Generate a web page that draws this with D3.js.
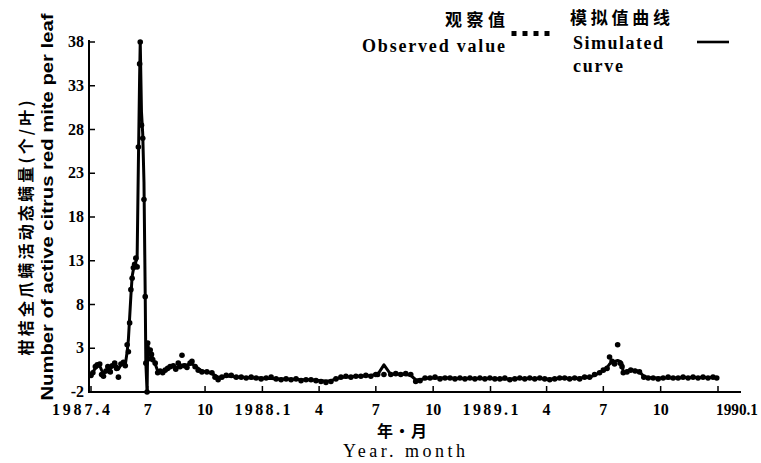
<!DOCTYPE html>
<html><head><meta charset="utf-8">
<script src="https://cdn.jsdelivr.net/npm/d3@7"></script>
<style>body{margin:0;background:#fff}svg{display:block}</style>
</head><body>
<svg id="c" width="761" height="463"></svg>
<script>
// ---- data ----
const dates = [
"1987-04-01","1987-04-04","1987-04-08","1987-04-11","1987-04-15","1987-04-18","1987-04-21","1987-04-25","1987-04-28",
"1987-05-02","1987-05-05","1987-05-09","1987-05-12","1987-05-15","1987-05-19","1987-05-23","1987-05-26","1987-05-29","1987-05-31",
"1987-06-02","1987-06-04","1987-06-06","1987-06-08","1987-06-10","1987-06-12","1987-06-14","1987-06-16","1987-06-18","1987-06-19",
"1987-06-21","1987-06-23","1987-06-25","1987-06-27","1987-06-28","1987-06-30","1987-07-01","1987-07-03","1987-07-05","1987-07-07",
"1987-07-09","1987-07-13","1987-07-17","1987-07-21","1987-07-25","1987-07-29","1987-08-02","1987-08-06","1987-08-11","1987-08-15",
"1987-08-19","1987-08-22","1987-08-25","1987-08-29","1987-09-02","1987-09-07","1987-09-10","1987-09-15","1987-09-20","1987-09-26",
"1987-10-04","1987-10-12","1987-10-17","1987-10-22","1987-10-28","1987-11-04","1987-11-12","1987-11-20","1987-11-28","1987-12-06",
"1987-12-14","1987-12-22","1987-12-30",
"1988-01-07","1988-01-15","1988-01-23","1988-01-31","1988-02-08","1988-02-16","1988-02-24","1988-03-03","1988-03-11","1988-03-19",
"1988-03-27","1988-04-04","1988-04-12","1988-04-20","1988-04-28","1988-05-06","1988-05-14","1988-05-22","1988-05-30","1988-06-07",
"1988-06-15","1988-06-23","1988-07-01","1988-07-04","1988-07-14","1988-07-25","1988-08-02","1988-08-10","1988-08-18","1988-08-26",
"1988-09-03","1988-09-10","1988-09-18","1988-09-26","1988-10-04","1988-10-12","1988-10-20","1988-10-28","1988-11-05","1988-11-13",
"1988-11-21","1988-11-29","1988-12-07","1988-12-15","1988-12-23","1988-12-31",
"1989-01-08","1989-01-16","1989-01-24","1989-02-01","1989-02-09","1989-02-17","1989-02-25","1989-03-05","1989-03-13","1989-03-21",
"1989-03-29","1989-04-06","1989-04-14","1989-04-22","1989-04-30","1989-05-08","1989-05-16","1989-05-24","1989-06-01","1989-06-09",
"1989-06-17","1989-06-25","1989-07-01","1989-07-07","1989-07-11","1989-07-15","1989-07-19","1989-07-24","1989-07-28","1989-07-31",
"1989-08-02","1989-08-08","1989-08-14","1989-08-21","1989-08-28","1989-09-04","1989-09-11","1989-09-19","1989-09-27","1989-10-05",
"1989-10-13","1989-10-21","1989-10-29","1989-11-06","1989-11-14","1989-11-22","1989-11-30","1989-12-08","1989-12-16","1989-12-24",
"1989-12-30"
];
const observed = [
-0.1,0.2,0.9,1.1,1.2,0.0,-0.2,0.4,0.9,
0.3,1.0,1.3,0.7,-0.3,1.2,1.4,1.0,3.4,2.6,
5.9,9.7,11.0,12.2,12.6,13.3,12.3,26.0,35.5,38.0,
28.5,27.0,20.0,8.9,1.3,-2.0,3.6,1.8,2.8,2.3,
1.7,1.3,0.2,0.4,0.2,0.5,0.7,0.9,1.0,0.6,
1.3,0.9,2.2,1.0,0.8,1.3,1.5,0.9,0.5,0.3,
0.3,0.2,-0.3,-0.6,-0.3,-0.1,-0.1,-0.3,-0.3,-0.4,
-0.3,-0.4,-0.5,
-0.4,-0.3,-0.5,-0.6,-0.5,-0.6,-0.5,-0.7,-0.6,-0.6,
-0.7,-0.8,-0.9,-0.8,-0.5,-0.3,-0.2,-0.3,-0.2,-0.2,
-0.1,-0.2,0.0,0.0,0.0,0.0,0.1,0.0,0.1,0.0,
-0.8,-0.7,-0.4,-0.4,-0.3,-0.5,-0.4,-0.4,-0.5,-0.4,
-0.5,-0.4,-0.5,-0.4,-0.5,-0.4,
-0.5,-0.5,-0.4,-0.6,-0.5,-0.4,-0.5,-0.4,-0.5,-0.4,
-0.5,-0.6,-0.5,-0.4,-0.4,-0.5,-0.4,-0.5,-0.3,-0.3,
0.0,0.2,0.5,0.7,2.0,1.5,1.2,3.4,1.3,0.9,
0.2,0.3,0.5,0.4,0.3,-0.3,-0.4,-0.4,-0.5,-0.4,
-0.3,-0.4,-0.4,-0.3,-0.4,-0.3,-0.4,-0.3,-0.4,-0.3,
-0.4
];
const simulated = [
0.0,0.3,0.7,0.9,1.0,0.5,0.1,0.3,0.7,
0.6,0.9,1.1,1.0,0.6,1.1,1.2,1.1,2.6,4.0,
6.5,9.0,11.2,12.0,12.5,12.9,13.3,24.0,34.0,38.0,
30.0,27.5,22.0,9.0,1.3,-2.0,3.6,2.6,2.7,2.3,
1.8,1.2,0.4,0.3,0.4,0.5,0.7,0.8,0.9,0.8,
0.9,1.0,1.1,1.1,1.1,1.2,1.2,1.0,0.7,0.4,
0.3,0.1,-0.1,-0.3,-0.3,-0.2,-0.2,-0.3,-0.3,-0.35,
-0.4,-0.4,-0.4,
-0.45,-0.45,-0.5,-0.5,-0.5,-0.55,-0.55,-0.6,-0.6,-0.6,
-0.65,-0.7,-0.75,-0.7,-0.5,-0.35,-0.3,-0.25,-0.2,-0.2,
-0.15,-0.1,0.0,0.0,1.1,0.0,0.05,0.05,0.0,-0.1,
-0.6,-0.6,-0.45,-0.4,-0.4,-0.4,-0.4,-0.4,-0.45,-0.45,
-0.45,-0.45,-0.45,-0.45,-0.45,-0.45,
-0.45,-0.5,-0.5,-0.5,-0.5,-0.45,-0.45,-0.45,-0.45,-0.45,
-0.5,-0.5,-0.5,-0.45,-0.4,-0.45,-0.45,-0.4,-0.35,-0.3,
-0.1,0.2,0.5,0.8,1.2,1.4,1.5,1.6,1.5,1.3,
0.2,0.4,0.5,0.5,0.3,-0.2,-0.35,-0.4,-0.4,-0.4,
-0.4,-0.4,-0.4,-0.35,-0.35,-0.35,-0.35,-0.35,-0.35,-0.35,
-0.35
];
const yTicks = [38,33,28,23,18,13,8,3,-2];
const xTickDates = ["1987-04-01","1987-07-01","1987-10-01","1988-01-01","1988-04-01","1988-07-01","1988-10-01","1989-01-01","1989-04-01","1989-07-01","1989-10-01","1990-01-01"];
const xTickLabels = ["1987.4","7","10","1988.1","4","7","10","1989.1","4","7","10","1990.1"];

// ---- drawing ----
const parse = d3.timeParse("%Y-%m-%d");
const svg = d3.select("#c");
const serif = "'Liberation Serif','Times New Roman',serif";
const cjk = "'Noto Sans CJK SC',sans-serif";

const x = d3.scaleTime().domain([parse("1987-04-01"), parse("1990-01-01")]).range([91, 718]);
const y = d3.scaleLinear().domain([-2, 38]).range([392, 42]);

const pts = dates.map((d, i) => ({d: parse(d), o: observed[i], s: simulated[i]}));

// axes lines
svg.append("line").attr("x1", 89).attr("x2", 89).attr("y1", 40).attr("y2", 393)
  .attr("stroke", "#000").attr("stroke-width", 2);
svg.append("line").attr("x1", 88).attr("x2", 741).attr("y1", 392).attr("y2", 392)
  .attr("stroke", "#000").attr("stroke-width", 2);

// y ticks
const yg = svg.append("g");
yTicks.forEach(t => {
  yg.append("line").attr("x1", 89).attr("x2", 95).attr("y1", y(t)).attr("y2", y(t))
    .attr("stroke", "#000").attr("stroke-width", 1.5);
  yg.append("text").attr("x", 84).attr("y", y(t) + 5).attr("text-anchor", "end")
    .attr("font-family", serif).attr("font-size", 16).attr("font-weight", "bold").text(t);
});

// x ticks
const xg = svg.append("g");
xTickDates.forEach((td, i) => {
  const xp = x(parse(td));
  xg.append("line").attr("x1", xp).attr("x2", xp).attr("y1", 392).attr("y2", 386)
    .attr("stroke", "#000").attr("stroke-width", 1.5);
  const lab = xTickLabels[i];
  const t = xg.append("text").attr("y", 415).attr("font-family", serif)
    .attr("font-size", 16).attr("font-weight", "bold").attr("text-anchor", "middle").text(lab);
  if (i === 0) t.attr("x", xp - 10).attr("textLength", 58).attr("lengthAdjust", "spacing");
  else if (i === xTickLabels.length - 1) t.attr("x", 737).attr("textLength", 42).attr("lengthAdjust", "spacingAndGlyphs");
  else if (lab.length > 3) t.attr("x", xp).attr("textLength", 56).attr("lengthAdjust", "spacing");
  else t.attr("x", xp);
});

// simulated curve
svg.append("path").datum(pts)
  .attr("d", d3.line().x(p => x(p.d)).y(p => y(p.s)))
  .attr("fill", "none").attr("stroke", "#000").attr("stroke-width", 3).attr("stroke-linejoin", "round");

// observed dots
svg.append("g").selectAll("circle").data(pts).join("circle")
  .attr("cx", p => x(p.d)).attr("cy", p => y(p.o)).attr("r", 2.8).attr("fill", "#000");

// legend
svg.append("text").attr("x", 445).attr("y", 26).attr("font-family", cjk).attr("font-weight", "bold")
  .attr("font-size", 17).attr("textLength", 60).attr("lengthAdjust", "spacing").text("观察值");
svg.append("text").attr("x", 362).attr("y", 52).attr("font-family", serif).attr("font-weight", "bold")
  .attr("font-size", 18).attr("textLength", 143).attr("lengthAdjust", "spacing").text("Observed value");
[514, 525, 536, 547].forEach(cx => svg.append("rect").attr("x", cx - 2.5).attr("y", 31).attr("width", 5).attr("height", 5).attr("fill", "#000"));
svg.append("text").attr("x", 570).attr("y", 24).attr("font-family", cjk).attr("font-weight", "bold")
  .attr("font-size", 17).attr("textLength", 100).attr("lengthAdjust", "spacing").text("模拟值曲线");
svg.append("text").attr("x", 573).attr("y", 49).attr("font-family", serif).attr("font-weight", "bold")
  .attr("font-size", 18).attr("textLength", 90).attr("lengthAdjust", "spacing").text("Simulated");
svg.append("text").attr("x", 573).attr("y", 72).attr("font-family", serif).attr("font-weight", "bold")
  .attr("font-size", 18).attr("textLength", 50).attr("lengthAdjust", "spacing").text("curve");
svg.append("line").attr("x1", 697).attr("x2", 729).attr("y1", 42).attr("y2", 42)
  .attr("stroke", "#000").attr("stroke-width", 2.6);

// axis titles
svg.append("text").attr("x", 402).attr("y", 437).attr("text-anchor", "middle").attr("font-family", cjk)
  .attr("font-weight", "bold").attr("font-size", 16).attr("textLength", 50).attr("lengthAdjust", "spacing").text("年 · 月");
svg.append("text").attr("x", 404).attr("y", 457).attr("text-anchor", "middle").attr("font-family", serif)
  .attr("font-size", 18).attr("textLength", 122).attr("lengthAdjust", "spacing").text("Year. month");

svg.append("text").attr("transform", "translate(32,228) rotate(-90)").attr("text-anchor", "middle")
  .attr("font-family", cjk).attr("font-weight", "bold").attr("font-size", 16)
  .attr("textLength", 255).attr("lengthAdjust", "spacing").text("柑桔全爪螨活动态螨量(个/叶)");
svg.append("text").attr("transform", "translate(53,207) rotate(-90)").attr("text-anchor", "middle")
  .attr("font-family", "'Liberation Sans',sans-serif").attr("font-weight", "bold").attr("font-size", 17)
  .attr("textLength", 387).attr("lengthAdjust", "spacingAndGlyphs").text("Number of active citrus red mite per leaf");
</script>
</body></html>
